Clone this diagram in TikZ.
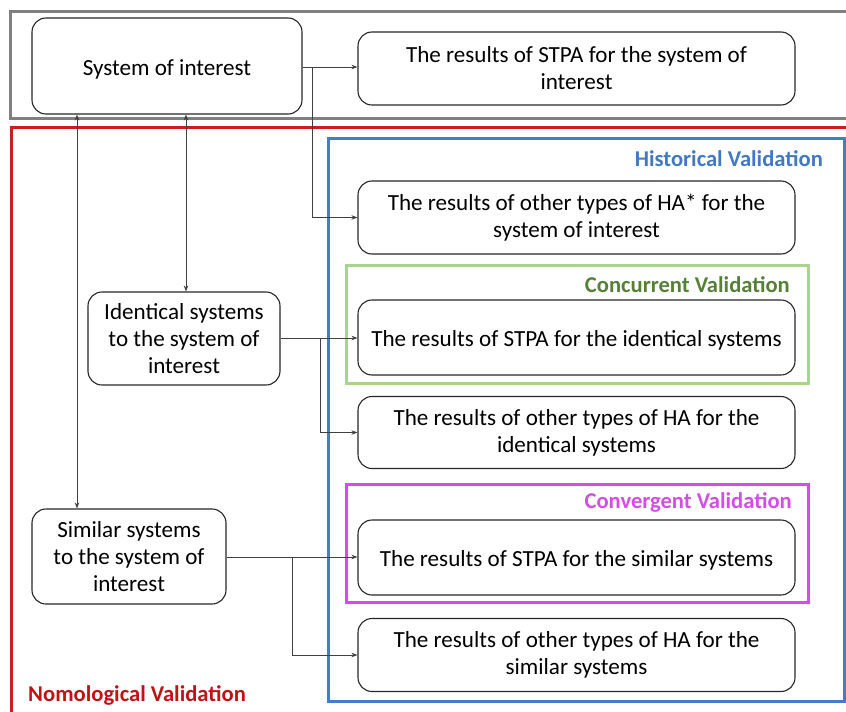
\documentclass[tikz,border=0pt]{standalone}
\usepackage{fontspec}
\setmainfont{Carlito}
\usetikzlibrary{arrows.meta}

\definecolor{framegray}{RGB}{128,128,128}
\definecolor{framered}{RGB}{200,32,32}
\definecolor{frameblue}{RGB}{66,126,200}
\definecolor{framegreen}{RGB}{168,212,140}
\definecolor{framemagenta}{RGB}{214,76,232}
\definecolor{labelblue}{RGB}{66,120,196}
\definecolor{labelgreen}{RGB}{84,130,53}
\definecolor{labelred}{RGB}{192,20,20}

% single-line labels sit a little below the geometric centre
\newcommand{\lowline}[1]{\raisebox{-3pt}[\height][\depth]{#1}}

\tikzset{
  x=1pt, y=-1pt,
  box/.style={draw=black!85, line width=1.1pt, rounded corners=14pt,
    align=center, inner sep=0pt, font=\fontsize{23.1}{27}\selectfont},
  frame/.style={line width=3pt},
  framelabel/.style={font=\fontsize{22.6}{27}\selectfont\bfseries, inner sep=0pt},
  conn/.style={draw=black!75, line width=0.7pt},
  arr/.style={conn, -{Stealth[length=6pt,width=4.5pt]}},
  dbl/.style={conn, {Stealth[length=6pt,width=4.5pt]}-{Stealth[length=6pt,width=4.5pt]}},
}

\begin{document}
\begin{tikzpicture}
\useasboundingbox (0,0) rectangle (846,712);
\clip (0,0) rectangle (846,712);

% grouping frames
\draw[frame, framegray] (10,11) rectangle (900,118);
\draw[frame, framered] (11,127) rectangle (900,714);
\draw[frame, frameblue] (328,138) rectangle (844,701);
\draw[frame, framegreen] (346,265) rectangle (808,383);
\draw[frame, framemagenta] (346,484) rectangle (808,602);

% frame titles
\node[framelabel, text=labelblue, anchor=base east] (thist) at (823,166.5) {Historical Validation};
\node[framelabel, text=labelgreen, anchor=base east] (tconc) at (790,292.5) {Concurrent Validation};
\node[framelabel, text=framemagenta, anchor=base east] (tconv) at (792,508) {Convergent Validation};
\node[framelabel, text=labelred, anchor=base west] (tnomo) at (28,701.5) {Nomological Validation};

% systems
\node[box, minimum width=270pt, minimum height=96pt] (soi) at (167,66) {\lowline{System of interest}};
\node[box, minimum width=192pt, minimum height=93pt] (ident) at (184,338.5) {Identical systems\\to the system of\\interest};
\node[box, minimum width=194pt, minimum height=95pt] (sim) at (129,556.5) {Similar systems\\to the system of\\interest};

% analysis results
\node[box, minimum width=437pt, minimum height=73pt] (rsoi) at (576.5,68.5) {The results of STPA for the system of\\interest};
\node[box, minimum width=437pt, minimum height=73pt] (hasoi) at (576.5,217.5) {The results of other types of HA* for the\\system of interest};
\node[box, minimum width=437pt, minimum height=75pt] (rident) at (576.5,337.5) {\lowline{The results of STPA for the identical systems}};
\node[box, minimum width=437pt, minimum height=72pt] (haident) at (576.5,432.5) {The results of other types of HA for the\\identical systems};
\node[box, minimum width=437pt, minimum height=75pt] (rsim) at (576.5,557.5) {\lowline{The results of STPA for the similar systems}};
\node[box, minimum width=437pt, minimum height=73pt] (hasim) at (576.5,655) {The results of other types of HA for the\\similar systems};

% branch points and vertical guide lines
\coordinate (b1) at (312,67);
\coordinate (b2) at (320,338);
\coordinate (b3) at (292,557);
\coordinate (v1) at (77,0);
\coordinate (v2) at (186,0);

% connectors from each system to its results
\draw[arr] (soi.east |- b1) -- (rsoi.west |- b1);
\draw[arr] (b1) |- (hasoi.west);
\draw[arr] (ident.east |- b2) -- (rident.west |- b2);
\draw[arr] (b2) |- (haident.west);
\draw[arr] (sim.east |- b3) -- (rsim.west |- b3);
\draw[arr] (b3) |- (hasim.west);

% links between the system of interest and the comparable systems
\draw[dbl] (soi.south -| v1) -- (sim.north -| v1);
\draw[dbl] (soi.south -| v2) -- (ident.north -| v2);
\end{tikzpicture}
\end{document}
